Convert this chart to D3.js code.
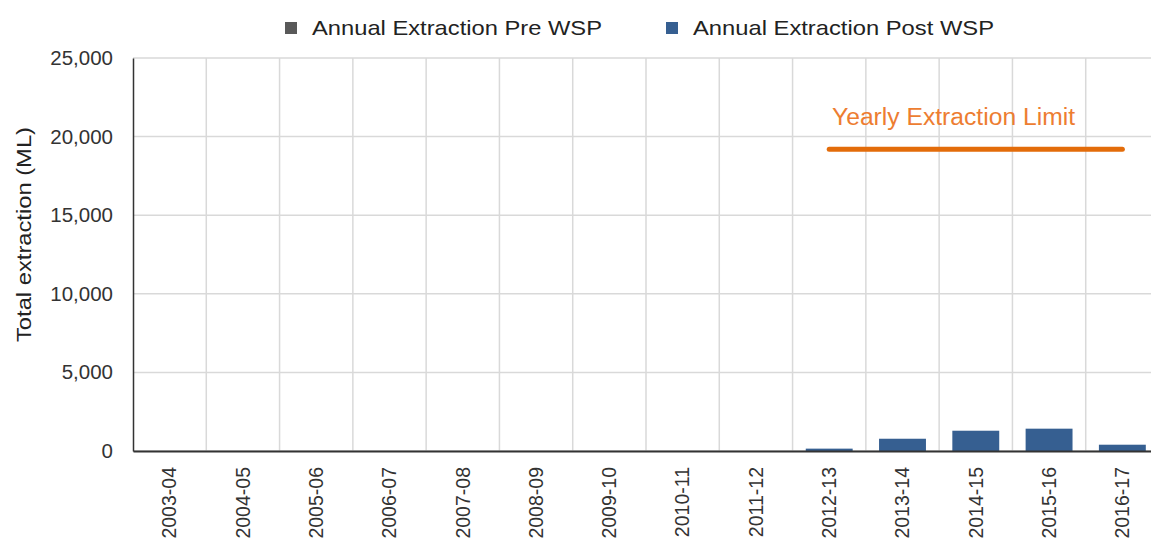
<!DOCTYPE html>
<html>
<head>
<meta charset="utf-8">
<script src="https://cdn.jsdelivr.net/npm/d3@7"></script>
<style>
body{margin:0;background:#fff;}
svg{display:block;font-family:"Liberation Sans",Arial,sans-serif;}
</style>
</head>
<body>
<div id="chart"></div>
<script>
// chart values
var years = ["2003-04","2004-05","2005-06","2006-07","2007-08","2008-09","2009-10","2010-11","2011-12","2012-13","2013-14","2014-15","2015-16","2016-17"];
var preWSP = [0,0,0,0,0,0,0,0,0,0,0,0,0,0];
var postWSP = [0,0,0,0,0,0,0,0,0,150,780,1290,1420,400];
var yTicks = [0,5000,10000,15000,20000,25000];
var limitValue = 19200;
var limitFrom = "2012-13", limitTo = "2016-17";

var W = 1151, H = 542;
var mLeft = 133, mRight = 1159, mTop = 58, mBottom = 451;

var svg = d3.select("#chart").append("svg")
  .attr("width", W).attr("height", H);

var x = d3.scaleBand().domain(years).range([mLeft, mRight]).paddingInner(0).paddingOuter(0);
var y = d3.scaleLinear().domain([0, 25000]).range([mBottom, mTop]);

// horizontal grid
svg.append("g").selectAll("line").data(yTicks).enter().append("line")
  .attr("x1", mLeft).attr("x2", mRight)
  .attr("y1", function(d){ return y(d); }).attr("y2", function(d){ return y(d); })
  .attr("stroke", "#d9d9d9").attr("stroke-width", 1.5);

// vertical grid at band edges
svg.append("g").selectAll("line").data(years.slice(1)).enter().append("line")
  .attr("x1", function(d){ return x(d); }).attr("x2", function(d){ return x(d); })
  .attr("y1", mTop).attr("y2", mBottom)
  .attr("stroke", "#d9d9d9").attr("stroke-width", 1.5);

// stacked bars
var barW = x.bandwidth() * 0.64;
var rows = years.map(function(d, i){ return {year: d, pre: preWSP[i], post: postWSP[i]}; });
svg.append("g").selectAll("rect").data(rows).enter().append("rect")
  .attr("x", function(d){ return x(d.year) + (x.bandwidth() - barW) / 2; })
  .attr("width", barW)
  .attr("y", function(d){ return y(d.pre); })
  .attr("height", function(d){ return mBottom - y(d.pre); })
  .attr("fill", "#595959");
svg.append("g").selectAll("rect").data(rows).enter().append("rect")
  .attr("x", function(d){ return x(d.year) + (x.bandwidth() - barW) / 2; })
  .attr("width", barW)
  .attr("y", function(d){ return y(d.pre + d.post); })
  .attr("height", function(d){ return y(d.pre) - y(d.pre + d.post); })
  .attr("fill", "#365f91");

// axes
var yAxis = d3.axisLeft(y).tickValues(yTicks).tickFormat(d3.format(",")).tickSize(0).tickPadding(20);
var gy = svg.append("g").attr("transform", "translate(" + mLeft + ",0)").call(yAxis);
gy.select(".domain").attr("stroke", "#333").attr("stroke-width", 1.5);
gy.selectAll("text").attr("font-size", 20.5).attr("fill", "#333").attr("font-family", "Liberation Sans, Arial, sans-serif");

var xAxis = d3.axisBottom(x).tickSize(0).tickPadding(0);
var gx = svg.append("g").attr("transform", "translate(0," + mBottom + ")").call(xAxis);
gx.select(".domain").attr("stroke", "#333").attr("stroke-width", 2);
gx.selectAll("text")
  .attr("font-size", 19.5).attr("fill", "#333").attr("font-family", "Liberation Sans, Arial, sans-serif")
  .attr("transform", "rotate(-90)")
  .attr("text-anchor", "end")
  .attr("x", -16).attr("y", 0).attr("dy", "0.35em");

// y title
svg.append("text")
  .attr("transform", "translate(31,234.5) rotate(-90)")
  .attr("text-anchor", "middle")
  .attr("font-size", 21).attr("fill", "#222")
  .attr("textLength", 215).attr("lengthAdjust", "spacingAndGlyphs")
  .text("Total extraction (ML)");

// limit line
var lx1 = x(limitFrom) + x.bandwidth() / 2, lx2 = x(limitTo) + x.bandwidth() / 2;
svg.append("line")
  .attr("x1", lx1).attr("x2", lx2)
  .attr("y1", y(limitValue)).attr("y2", y(limitValue))
  .attr("stroke", "#e36c0a").attr("stroke-width", 5).attr("stroke-linecap", "round");
svg.append("text")
  .attr("x", 832).attr("y", 125)
  .attr("font-size", 23.5).attr("fill", "#ed7d31")
  .attr("textLength", 243).attr("lengthAdjust", "spacingAndGlyphs")
  .text("Yearly Extraction Limit");

// legend
var legend = [{name: "Annual Extraction Pre WSP", color: "#595959", x: 285, len: 290},
              {name: "Annual Extraction Post WSP", color: "#365f91", x: 666, len: 301}];
var lg = svg.append("g").selectAll("g").data(legend).enter().append("g")
  .attr("transform", function(d){ return "translate(" + d.x + ",22)"; });
lg.append("rect").attr("width", 12).attr("height", 12).attr("fill", function(d){ return d.color; });
lg.append("text").attr("x", 27).attr("y", 13).attr("font-size", 21).attr("fill", "#222")
  .attr("textLength", function(d){ return d.len; }).attr("lengthAdjust", "spacingAndGlyphs")
  .text(function(d){ return d.name; });
</script>
</body>
</html>
